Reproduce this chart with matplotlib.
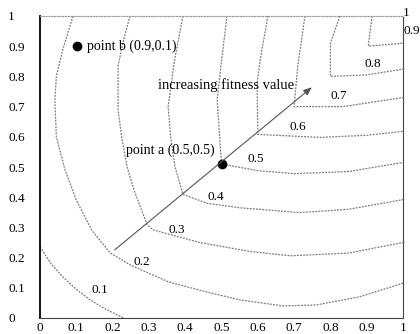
import matplotlib
matplotlib.use('Agg')
import matplotlib.pyplot as plt

# contour lines, one list pair per level
levels = ['0.1', '0.2', '0.3', '0.4', '0.5', '0.6', '0.7', '0.8', '0.9']
cx = {
    '0.1': [0.0, 0.03, 0.063, 0.10, 0.138, 0.18, 0.23],
    '0.2': [0.091, 0.063, 0.045, 0.041, 0.045, 0.069, 0.10, 0.143, 0.193, 0.248, 0.353, 0.46, 0.55, 0.67, 0.76, 0.88, 1.0],
    '0.3': [0.248, 0.23, 0.215, 0.215, 0.215, 0.225, 0.24, 0.26, 0.295, 0.311, 0.44, 0.58, 0.69, 0.85, 1.0],
    '0.4': [0.394, 0.37, 0.353, 0.36, 0.372, 0.394, 0.46, 0.55, 0.716, 0.85, 1.0],
    '0.5': [0.515, 0.50, 0.488, 0.496, 0.50, 0.6, 0.7, 0.85, 1.0],
    '0.6': [0.628, 0.61, 0.598, 0.60, 0.77, 0.9, 1.0],
    '0.7': [0.73, 0.71, 0.70, 0.835, 1.0],
    '0.8': [0.826, 0.80, 0.80, 0.9, 1.0],
    '0.9': [0.915, 0.905, 0.905, 1.0],
}
cy = {
    '0.1': [0.236, 0.18, 0.136, 0.095, 0.06, 0.03, 0.0],
    '0.2': [1.0, 0.89, 0.80, 0.72, 0.60, 0.49, 0.39, 0.29, 0.216, 0.176, 0.12, 0.086, 0.06, 0.04, 0.043, 0.07, 0.115],
    '0.3': [1.0, 0.92, 0.834, 0.75, 0.69, 0.6, 0.5, 0.42, 0.309, 0.292, 0.25, 0.22, 0.206, 0.215, 0.25],
    '0.4': [1.0, 0.85, 0.70, 0.6, 0.5, 0.409, 0.38, 0.365, 0.349, 0.36, 0.392],
    '0.5': [1.0, 0.85, 0.724, 0.58, 0.51, 0.488, 0.478, 0.485, 0.515],
    '0.6': [1.0, 0.88, 0.78, 0.608, 0.598, 0.605, 0.618],
    '0.7': [1.0, 0.834, 0.70, 0.70, 0.73],
    '0.8': [1.0, 0.91, 0.80, 0.805, 0.824],
    '0.9': [1.0, 0.91, 0.90, 0.91],
}
# where each level's number sits
lab_x = [0.165, 0.281, 0.377, 0.485, 0.595, 0.711, 0.824, 0.917, 1.025]
lab_y = [0.093, 0.186, 0.292, 0.402, 0.525, 0.631, 0.734, 0.84, 0.95]

ticks = [0, 0.1, 0.2, 0.3, 0.4, 0.5, 0.6, 0.7, 0.8, 0.9, 1]
tick_labels = ['0', '0.1', '0.2', '0.3', '0.4', '0.5', '0.6', '0.7', '0.8', '0.9', '1']

pt_a = (0.5, 0.51)
pt_b = (0.102, 0.90)
arrow_from = (0.2, 0.22)
arrow_to = (0.755, 0.77)

plt.rcParams['font.family'] = ['Liberation Serif', 'DejaVu Serif']

fig = plt.figure(figsize=(4.2, 3.34), dpi=100)
ax = fig.add_axes([40/420, 16/334, 363/420, 302/334])

grey = '#7a7a7a'
for lv in levels:
    ax.plot(cx[lv], cy[lv], color=grey, lw=0.9, ls=(0, (1.5, 1)), clip_on=False)
for i, lv in enumerate(levels):
    ax.text(lab_x[i], lab_y[i], lv, fontsize=9.5, ha='center', va='center', clip_on=False)
ax.text(1.01, 1.01, '1', fontsize=9.5, ha='center', va='center')

ax.annotate('', xy=arrow_to, xytext=arrow_from,
            arrowprops=dict(arrowstyle='-|>,head_length=0.5,head_width=0.2', color='#555555', lw=0.8))
ax.plot(*pt_a, 'o', color='black', ms=6)
ax.plot(*pt_b, 'o', color='black', ms=6)
ax.text(0.482, 0.555, 'point a (0.5,0.5)', fontsize=10, ha='right', va='center')
ax.text(0.13, 0.90, 'point b (0.9,0.1)', fontsize=10, ha='left', va='center')
ax.text(0.325, 0.77, 'increasing fitness value', fontsize=10.5, ha='left', va='center')

ax.set_xlim(0, 1)
ax.set_ylim(0, 1)
ax.set_xticks(ticks)
ax.set_xticklabels(tick_labels, fontsize=9.5)
ax.set_yticks(ticks)
ax.set_yticklabels(tick_labels, fontsize=9.5, ha='left')
ax.tick_params(axis='both', length=0)
ax.tick_params(axis='y', pad=23)
ax.tick_params(axis='x', pad=3)

ax.spines['left'].set_linewidth(1.3)
ax.spines['bottom'].set_linestyle((0, (2, 1)))
ax.spines['bottom'].set_color('#444444')
ax.spines['top'].set_linestyle((0, (1, 1.5)))
ax.spines['top'].set_color('#999999')
ax.spines['right'].set_linestyle((0, (1, 1)))
ax.spines['right'].set_color('#444444')

fig.savefig('out.png', dpi=100)
